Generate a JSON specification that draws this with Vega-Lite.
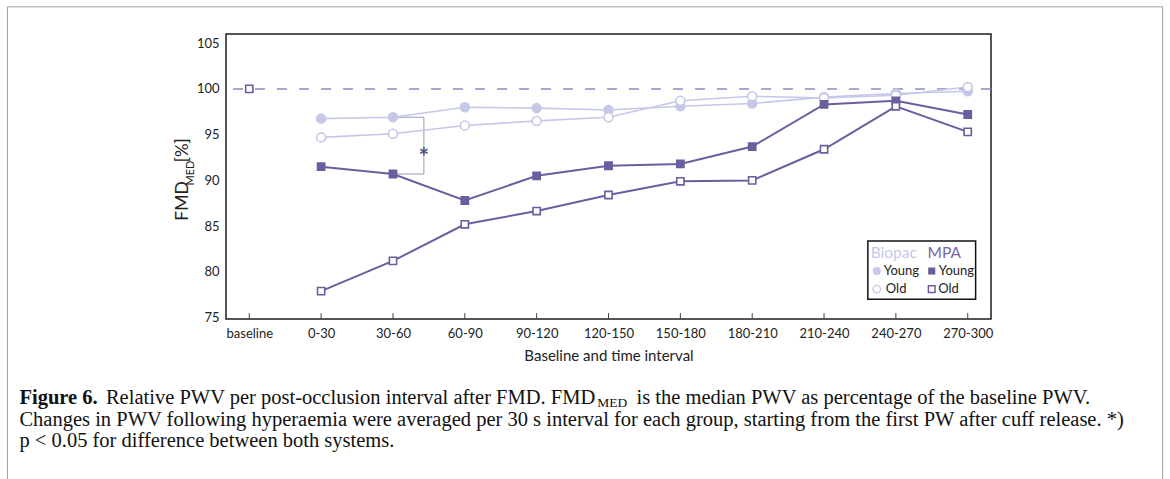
{
  "$schema": "https://vega.github.io/schema/vega-lite/v6.json",
  "autosize": "none",
  "padding": {"left": 226, "top": 34, "right": 179, "bottom": 160},
  "width": 765,
  "height": 285,
  "background": "white",
  "config": {
    "font": "Lato",
    "view": {"stroke": "#1e1e1e", "strokeWidth": 1.5},
    "axis": {"grid": false, "domain": false, "labelColor": "#222", "titleColor": "#222"}
  },
  "data": {
    "values": [
      {"i": 1, "interval": "0-30", "system": "Biopac", "group": "Young", "series": "Biopac Young", "value": 96.75},
      {"i": 2, "interval": "30-60", "system": "Biopac", "group": "Young", "series": "Biopac Young", "value": 96.9},
      {"i": 3, "interval": "60-90", "system": "Biopac", "group": "Young", "series": "Biopac Young", "value": 98.0},
      {"i": 4, "interval": "90-120", "system": "Biopac", "group": "Young", "series": "Biopac Young", "value": 97.9},
      {"i": 5, "interval": "120-150", "system": "Biopac", "group": "Young", "series": "Biopac Young", "value": 97.7},
      {"i": 6, "interval": "150-180", "system": "Biopac", "group": "Young", "series": "Biopac Young", "value": 98.1},
      {"i": 7, "interval": "180-210", "system": "Biopac", "group": "Young", "series": "Biopac Young", "value": 98.4},
      {"i": 8, "interval": "210-240", "system": "Biopac", "group": "Young", "series": "Biopac Young", "value": 99.1},
      {"i": 9, "interval": "240-270", "system": "Biopac", "group": "Young", "series": "Biopac Young", "value": 99.5},
      {"i": 10, "interval": "270-300", "system": "Biopac", "group": "Young", "series": "Biopac Young", "value": 99.75},
      {"i": 1, "interval": "0-30", "system": "Biopac", "group": "Old", "series": "Biopac Old", "value": 94.7},
      {"i": 2, "interval": "30-60", "system": "Biopac", "group": "Old", "series": "Biopac Old", "value": 95.1},
      {"i": 3, "interval": "60-90", "system": "Biopac", "group": "Old", "series": "Biopac Old", "value": 96.0},
      {"i": 4, "interval": "90-120", "system": "Biopac", "group": "Old", "series": "Biopac Old", "value": 96.5},
      {"i": 5, "interval": "120-150", "system": "Biopac", "group": "Old", "series": "Biopac Old", "value": 96.9},
      {"i": 6, "interval": "150-180", "system": "Biopac", "group": "Old", "series": "Biopac Old", "value": 98.7},
      {"i": 7, "interval": "180-210", "system": "Biopac", "group": "Old", "series": "Biopac Old", "value": 99.2},
      {"i": 8, "interval": "210-240", "system": "Biopac", "group": "Old", "series": "Biopac Old", "value": 99.0},
      {"i": 9, "interval": "240-270", "system": "Biopac", "group": "Old", "series": "Biopac Old", "value": 99.3},
      {"i": 10, "interval": "270-300", "system": "Biopac", "group": "Old", "series": "Biopac Old", "value": 100.2},
      {"i": 1, "interval": "0-30", "system": "MPA", "group": "Young", "series": "MPA Young", "value": 91.5},
      {"i": 2, "interval": "30-60", "system": "MPA", "group": "Young", "series": "MPA Young", "value": 90.7},
      {"i": 3, "interval": "60-90", "system": "MPA", "group": "Young", "series": "MPA Young", "value": 87.8},
      {"i": 4, "interval": "90-120", "system": "MPA", "group": "Young", "series": "MPA Young", "value": 90.5},
      {"i": 5, "interval": "120-150", "system": "MPA", "group": "Young", "series": "MPA Young", "value": 91.6},
      {"i": 6, "interval": "150-180", "system": "MPA", "group": "Young", "series": "MPA Young", "value": 91.8},
      {"i": 7, "interval": "180-210", "system": "MPA", "group": "Young", "series": "MPA Young", "value": 93.7},
      {"i": 8, "interval": "210-240", "system": "MPA", "group": "Young", "series": "MPA Young", "value": 98.3},
      {"i": 9, "interval": "240-270", "system": "MPA", "group": "Young", "series": "MPA Young", "value": 98.7},
      {"i": 10, "interval": "270-300", "system": "MPA", "group": "Young", "series": "MPA Young", "value": 97.2},
      {"i": 0, "interval": "baseline", "system": "MPA", "group": "Old", "series": "MPA Old", "value": 100},
      {"i": 1, "interval": "0-30", "system": "MPA", "group": "Old", "series": "MPA Old", "value": 77.9},
      {"i": 2, "interval": "30-60", "system": "MPA", "group": "Old", "series": "MPA Old", "value": 81.2},
      {"i": 3, "interval": "60-90", "system": "MPA", "group": "Old", "series": "MPA Old", "value": 85.2},
      {"i": 4, "interval": "90-120", "system": "MPA", "group": "Old", "series": "MPA Old", "value": 86.65},
      {"i": 5, "interval": "120-150", "system": "MPA", "group": "Old", "series": "MPA Old", "value": 88.4},
      {"i": 6, "interval": "150-180", "system": "MPA", "group": "Old", "series": "MPA Old", "value": 89.9},
      {"i": 7, "interval": "180-210", "system": "MPA", "group": "Old", "series": "MPA Old", "value": 90.0},
      {"i": 8, "interval": "210-240", "system": "MPA", "group": "Old", "series": "MPA Old", "value": 93.4},
      {"i": 9, "interval": "240-270", "system": "MPA", "group": "Old", "series": "MPA Old", "value": 98.1},
      {"i": 10, "interval": "270-300", "system": "MPA", "group": "Old", "series": "MPA Old", "value": 95.3}
    ]
  },
  "encoding": {
    "x": {
      "field": "i", "type": "quantitative",
      "scale": {"domain": [-0.324, 10.324], "nice": false, "zero": false},
      "axis": {
        "values": [0, 1, 2, 3, 4, 5, 6, 7, 8, 9, 10],
        "labelExpr": "['baseline','0-30','30-60','60-90','90-120','120-150','150-180','180-210','210-240','240-270','270-300'][datum.value]",
        "labelFontSize": 13, "labelPadding": 8, "ticks": false,
        "title": "Baseline and time interval", "titleFontSize": 15, "titleFontWeight": "normal", "titlePadding": 8
      }
    },
    "y": {
      "field": "value", "type": "quantitative",
      "scale": {"domain": [74.85, 106], "nice": false, "zero": false},
      "axis": {
        "values": [75, 80, 85, 90, 95, 100, 105],
        "labelFontSize": 13, "labelPadding": 7, "ticks": false, "title": null
      }
    }
  },
  "layer": [
    {
      "transform": [{"filter": "datum.i == 0"}],
      "mark": {"type": "rect", "fill": "transparent", "stroke": "#a0a0a0", "strokeWidth": 1, "clip": false},
      "encoding": {
        "x": {"datum": -3.366}, "x2": {"datum": 12.712},
        "y": {"datum": 108.97}, "y2": {"datum": 40}
      }
    },
    {
      "transform": [{"filter": "datum.series == 'MPA Old'"}],
      "mark": {"type": "rule", "stroke": "#444", "strokeWidth": 1},
      "encoding": {"y": {"datum": 74.85}, "y2": {"datum": 75.5}}
    },
    {
      "transform": [{"filter": "datum.i == 0"}],
      "mark": {"type": "rule", "stroke": "#8e8cb9", "strokeWidth": 1.5, "strokeDash": [10, 12]},
      "encoding": {"y": {"datum": 100}, "x": null}
    },
    {
      "transform": [{"filter": "datum.i == 0"}],
      "mark": {"type": "rule", "stroke": "#a7a9cd", "strokeWidth": 1.2},
      "encoding": {"x": {"datum": 2}, "x2": {"datum": 2.43}, "y": {"datum": 96.9}}
    },
    {
      "transform": [{"filter": "datum.i == 0"}],
      "mark": {"type": "rule", "stroke": "#a7a9cd", "strokeWidth": 1.2},
      "encoding": {"x": {"datum": 2.43}, "y": {"datum": 96.9}, "y2": {"datum": 90.7}}
    },
    {
      "transform": [{"filter": "datum.i == 0"}],
      "mark": {"type": "rule", "stroke": "#a7a9cd", "strokeWidth": 1.2},
      "encoding": {"x": {"datum": 2}, "x2": {"datum": 2.43}, "y": {"datum": 90.7}}
    },
    {
      "transform": [{"filter": "datum.i == 0"}],
      "mark": {"type": "text", "text": "*", "fontSize": 25, "fontWeight": "bold", "color": "#4a5580", "align": "center", "baseline": "middle"},
      "encoding": {"x": {"datum": 2.43}, "y": {"datum": 92.45}}
    },
    {
      "transform": [{"filter": "datum.i > 0"}],
      "mark": {"type": "line"},
      "encoding": {
        "detail": {"field": "series"},
        "stroke": {"field": "series", "type": "nominal", "scale": {"domain": ["Biopac Young", "Biopac Old", "MPA Young", "MPA Old"], "range": ["#c6c8e8", "#c6c8e8", "#6b5e9f", "#6b5e9f"]}, "legend": null},
        "strokeWidth": {"field": "system", "type": "nominal", "scale": {"domain": ["Biopac", "MPA"], "range": [1.6, 2]}, "legend": null}
      }
    },
    {
      "mark": {"type": "point", "opacity": 1, "strokeWidth": 1.6},
      "encoding": {
        "shape": {"field": "system", "type": "nominal", "scale": {"domain": ["Biopac", "MPA"], "range": ["circle", "square"]}, "legend": null},
        "size": {"field": "system", "type": "nominal", "scale": {"domain": ["Biopac", "MPA"], "range": [80, 52]}, "legend": null},
        "stroke": {"field": "series", "type": "nominal", "scale": {"domain": ["Biopac Young", "Biopac Old", "MPA Young", "MPA Old"], "range": ["#c6c8e8", "#c6c8e8", "#6b5e9f", "#6b5e9f"]}, "legend": null},
        "fill": {"field": "series", "type": "nominal", "scale": {"domain": ["Biopac Young", "Biopac Old", "MPA Young", "MPA Old"], "range": ["#c6c8e8", "#ffffff", "#6b5e9f", "#ffffff"]}, "legend": null}
      }
    },
    {
      "transform": [{"filter": "datum.i == 0"}],
      "mark": {"type": "rect", "fill": "white", "stroke": "#111", "strokeWidth": 1.5},
      "encoding": {"x": {"datum": 8.61}, "x2": {"datum": 10.11}, "y": {"datum": 83.37}, "y2": {"datum": 77.02}}
    },
    {
      "transform": [{"filter": "datum.i == 0"}],
      "mark": {"type": "text", "text": "Biopac", "fontSize": 15.5, "color": "#c6c8e8", "align": "left", "baseline": "middle"},
      "encoding": {"x": {"datum": 8.65}, "y": {"datum": 82.06}}
    },
    {
      "transform": [{"filter": "datum.i == 0"}],
      "mark": {"type": "text", "text": "MPA", "fontSize": 15.5, "color": "#7468a8", "align": "left", "baseline": "middle"},
      "encoding": {"x": {"datum": 9.44}, "y": {"datum": 82.06}}
    },
    {
      "transform": [{"filter": "datum.i == 0"}],
      "mark": {"type": "point", "shape": "circle", "size": 64, "filled": true, "color": "#c6c8e8", "opacity": 1},
      "encoding": {"x": {"datum": 8.734}, "y": {"datum": 80.09}}
    },
    {
      "transform": [{"filter": "datum.i == 0"}],
      "mark": {"type": "point", "shape": "circle", "size": 56, "filled": false, "stroke": "#c6c8e8", "fill": "white", "strokeWidth": 1.4, "opacity": 1},
      "encoding": {"x": {"datum": 8.734}, "y": {"datum": 78.12}}
    },
    {
      "transform": [{"filter": "datum.i == 0"}],
      "mark": {"type": "point", "shape": "square", "size": 50, "filled": true, "color": "#6b5e9f", "opacity": 1},
      "encoding": {"x": {"datum": 9.499}, "y": {"datum": 80.09}}
    },
    {
      "transform": [{"filter": "datum.i == 0"}],
      "mark": {"type": "point", "shape": "square", "size": 44, "filled": false, "stroke": "#6b5e9f", "fill": "white", "strokeWidth": 1.5, "opacity": 1},
      "encoding": {"x": {"datum": 9.499}, "y": {"datum": 78.12}}
    },
    {
      "transform": [{"filter": "datum.i == 0"}],
      "mark": {"type": "text", "text": "Young", "fontSize": 13, "color": "#222", "align": "left", "baseline": "middle"},
      "encoding": {"x": {"datum": 8.832}, "y": {"datum": 80.09}}
    },
    {
      "transform": [{"filter": "datum.i == 0"}],
      "mark": {"type": "text", "text": "Old", "fontSize": 13, "color": "#222", "align": "left", "baseline": "middle"},
      "encoding": {"x": {"datum": 8.86}, "y": {"datum": 78.12}}
    },
    {
      "transform": [{"filter": "datum.i == 0"}],
      "mark": {"type": "text", "text": "Young", "fontSize": 13, "color": "#222", "align": "left", "baseline": "middle"},
      "encoding": {"x": {"datum": 9.597}, "y": {"datum": 80.09}}
    },
    {
      "transform": [{"filter": "datum.i == 0"}],
      "mark": {"type": "text", "text": "Old", "fontSize": 13, "color": "#222", "align": "left", "baseline": "middle"},
      "encoding": {"x": {"datum": 9.59}, "y": {"datum": 78.12}}
    },
    {
      "transform": [{"filter": "datum.i == 0"}],
      "mark": {"type": "text", "text": "FMD", "fontSize": 17.5, "angle": 270, "color": "#222", "align": "center", "baseline": "middle"},
      "encoding": {"x": {"datum": -0.918}, "y": {"datum": 87.75}}
    },
    {
      "transform": [{"filter": "datum.i == 0"}],
      "mark": {"type": "text", "text": "MED", "fontSize": 11, "angle": 270, "color": "#222", "align": "center", "baseline": "middle"},
      "encoding": {"x": {"datum": -0.805}, "y": {"datum": 90.81}}
    },
    {
      "transform": [{"filter": "datum.i == 0"}],
      "mark": {"type": "text", "text": "[%]", "fontSize": 17, "angle": 270, "color": "#222", "align": "center", "baseline": "middle"},
      "encoding": {"x": {"datum": -0.918}, "y": {"datum": 93.3}}
    },
    {
      "transform": [{"filter": "datum.i == 0"}],
      "mark": {"type": "text", "text": "Figure 6.", "font": "Liberation Serif", "fontWeight": "bold", "fontSize": 20.5, "color": "#111", "align": "left", "baseline": "middle"},
      "encoding": {"x": {"datum": -3.199}, "y": {"datum": 66.19}}
    },
    {
      "transform": [{"filter": "datum.i == 0"}],
      "mark": {"type": "text", "text": "Relative PWV per post-occlusion interval after FMD. FMD", "font": "Liberation Serif", "fontSize": 20.5, "color": "#111", "align": "left", "baseline": "middle"},
      "encoding": {"x": {"datum": -1.995}, "y": {"datum": 66.19}}
    },
    {
      "transform": [{"filter": "datum.i == 0"}],
      "mark": {"type": "text", "text": "MED", "font": "Liberation Serif", "fontSize": 13.5, "color": "#111", "align": "left", "baseline": "middle"},
      "encoding": {"x": {"datum": 4.845}, "y": {"datum": 65.72}}
    },
    {
      "transform": [{"filter": "datum.i == 0"}],
      "mark": {"type": "text", "text": "is the median PWV as percentage of the baseline PWV.", "font": "Liberation Serif", "fontSize": 20.5, "color": "#111", "align": "left", "baseline": "middle"},
      "encoding": {"x": {"datum": 5.39}, "y": {"datum": 66.19}}
    },
    {
      "transform": [{"filter": "datum.i == 0"}],
      "mark": {"type": "text", "text": "Changes in PWV following hyperaemia were averaged per 30 s interval for each group, starting from the first PW after cuff release. *)", "font": "Liberation Serif", "fontSize": 20.5, "color": "#111", "align": "left", "baseline": "middle"},
      "encoding": {"x": {"datum": -3.199}, "y": {"datum": 63.79}}
    },
    {
      "transform": [{"filter": "datum.i == 0"}],
      "mark": {"type": "text", "text": "p  <  0.05 for difference between both systems.", "font": "Liberation Serif", "fontSize": 20.5, "color": "#111", "align": "left", "baseline": "middle"},
      "encoding": {"x": {"datum": -3.199}, "y": {"datum": 61.49}}
    }
  ]
}
